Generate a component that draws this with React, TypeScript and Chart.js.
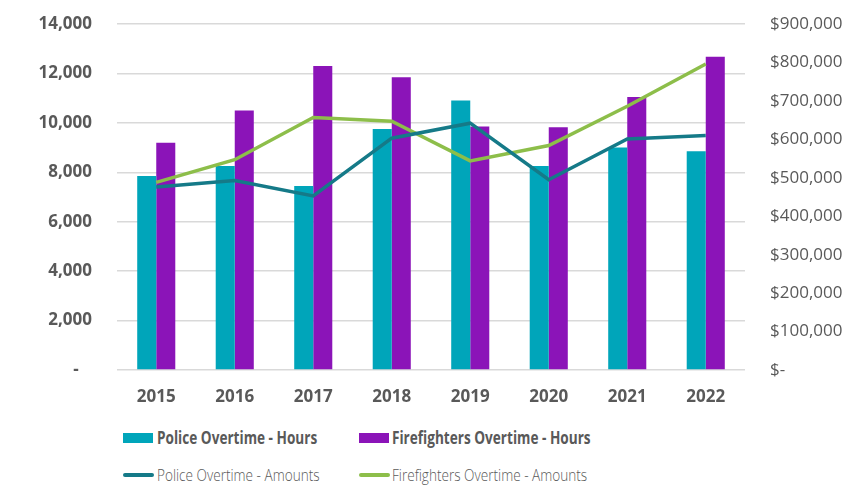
import React, { useEffect, useRef } from "react";
import { Chart, registerables } from "chart.js";

Chart.register(...registerables);

const years = ["2015", "2016", "2017", "2018", "2019", "2020", "2021", "2022"];
const policeHours = [7850, 8250, 7450, 9750, 10900, 8250, 9000, 8850];
const fireHours = [9200, 10500, 12300, 11850, 9850, 9820, 11050, 12670];
const policeAmounts = [476000, 493000, 453000, 603000, 642000, 495000, 601000, 610000];
const fireAmounts = [488000, 547000, 657000, 647000, 544000, 584000, 686000, 796000];

const seriesNames = [
  "Police Overtime - Hours",
  "Firefighters Overtime - Hours",
  "Police Overtime - Amounts",
  "Firefighters Overtime - Amounts",
];
const colors = ["#00A5BA", "#8B14B8", "#157A88", "#8DBE4A"];
const textColor = "#595959";
const FONT = "'Open Sans', 'Noto Sans', sans-serif";

export default function App() {
  const ref = useRef<HTMLCanvasElement | null>(null);

  useEffect(() => {
    if (!ref.current) return;
    const chart = new Chart(ref.current, {
      type: "bar",
      data: {
        labels: years,
        datasets: [
          {
            type: "bar",
            label: seriesNames[0],
            data: policeHours,
            backgroundColor: colors[0],
            yAxisID: "y",
            order: 2,
            categoryPercentage: 0.485,
            barPercentage: 1,
          },
          {
            type: "bar",
            label: seriesNames[1],
            data: fireHours,
            backgroundColor: colors[1],
            yAxisID: "y",
            order: 2,
            categoryPercentage: 0.485,
            barPercentage: 1,
          },
          {
            type: "line",
            label: seriesNames[2],
            data: policeAmounts,
            borderColor: colors[2],
            backgroundColor: colors[2],
            borderWidth: 3.5,
            pointRadius: 0,
            tension: 0,
            borderJoinStyle: "miter",
            yAxisID: "y1",
            order: 1,
          },
          {
            type: "line",
            label: seriesNames[3],
            data: fireAmounts,
            borderColor: colors[3],
            backgroundColor: colors[3],
            borderWidth: 3.5,
            pointRadius: 0,
            tension: 0,
            borderJoinStyle: "miter",
            yAxisID: "y1",
            order: 1,
          },
        ] as any,
      },
      options: {
        responsive: false,
        animation: false,
        layout: { padding: { top: 24, left: 0, right: 0, bottom: 0 } },
        plugins: { legend: { display: false }, tooltip: { enabled: false } },
        scales: {
          x: {
            grid: { display: false },
            border: { display: false },
            ticks: {
              color: textColor,
              font: { family: FONT, size: 17, weight: "bold" },
              padding: 9,
            },
            afterFit: (s: any) => {
              s.height = 50;
            },
          },
          y: {
            position: "left",
            min: 0,
            max: 14000,
            grid: { color: "#D9D9D9", lineWidth: 1.5, drawTicks: false },
            border: { display: false },
            ticks: {
              stepSize: 2000,
              color: textColor,
              padding: 25,
              font: { family: FONT, size: 17, weight: "bold" },
              callback: (v: any) => (Number(v) === 0 ? "-   " : Number(v).toLocaleString("en-US")),
            },
            afterFit: (s: any) => {
              s.width = 117;
              s.paddingTop = 0;
              s.paddingBottom = 0;
            },
          },
          y1: {
            position: "right",
            min: 0,
            max: 900000,
            grid: { drawOnChartArea: false, drawTicks: false },
            border: { display: false },
            ticks: {
              stepSize: 100000,
              color: textColor,
              padding: 25,
              font: { family: FONT, size: 17, weight: "normal" },
              callback: (v: any) => (Number(v) === 0 ? "$-" : "$" + Number(v).toLocaleString("en-US")),
            },
            afterFit: (s: any) => {
              s.width = 108;
              s.paddingTop = 0;
              s.paddingBottom = 0;
            },
          },
        },
      } as any,
    });
    return () => chart.destroy();
  }, []);

  const legendItems = [
    { x: 123, y: 438, col: colors[0], name: seriesNames[0], bar: true, textX: 157 },
    { x: 359, y: 438, col: colors[1], name: seriesNames[1], bar: true, textX: 392 },
    { x: 123, y: 475, col: colors[2], name: seriesNames[2], bar: false, textX: 157 },
    { x: 359, y: 475, col: colors[3], name: seriesNames[3], bar: false, textX: 392 },
  ];

  return (
    <div style={{ position: "absolute", left: 0, top: 0, width: 853, height: 485, background: "#fff", overflow: "hidden" }}>
      <canvas ref={ref} width={853} height={420} style={{ display: "block", width: 853, height: 420 }} />
      {legendItems.map((it, i) => (
        <React.Fragment key={i}>
          <div
            style={{
              position: "absolute",
              left: it.x,
              top: it.bar ? it.y - 5 : it.y - 2,
              width: it.bar ? 30 : 31,
              height: it.bar ? 10 : 4,
              borderRadius: it.bar ? 0 : 2,
              background: it.col,
            }}
          />
          <div
            style={{
              position: "absolute",
              left: it.textX,
              top: it.y - 12,
              height: 24,
              lineHeight: "24px",
              fontFamily: FONT,
              fontSize: 17,
              fontWeight: it.bar ? 700 : 300,
              color: textColor,
              whiteSpace: "nowrap",
              transform: "scaleX(0.8)",
              transformOrigin: "left center",
            }}
          >
            {it.name}
          </div>
        </React.Fragment>
      ))}
    </div>
  );
}
